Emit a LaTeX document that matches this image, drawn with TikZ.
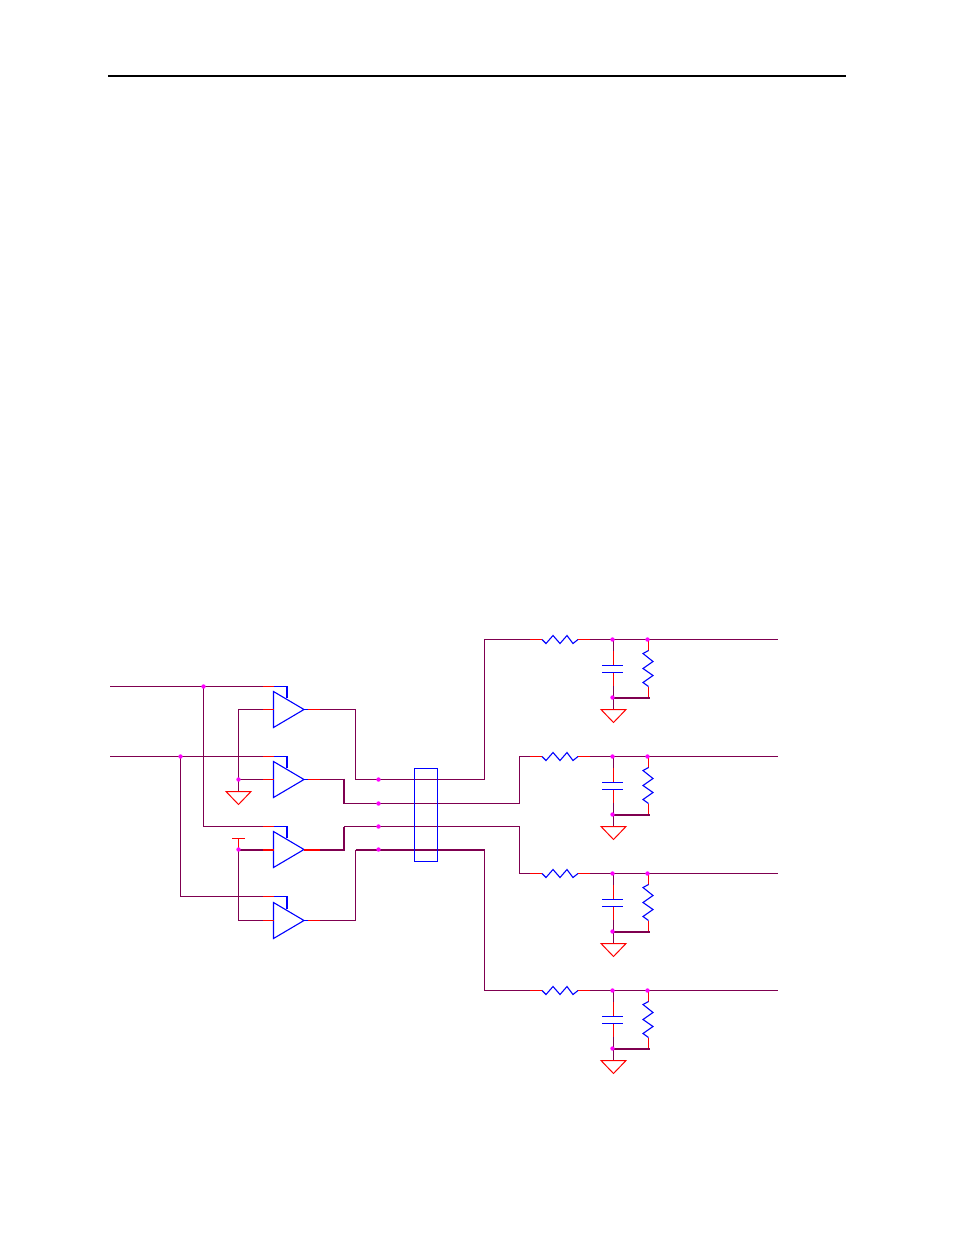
\documentclass[tikz,border=0pt]{standalone}
\usepackage{xcolor}
\definecolor{wirecol}{HTML}{7F0050}
\definecolor{dotcol}{HTML}{FF00FF}
\definecolor{partcol}{HTML}{0000FF}
\definecolor{stubcol}{HTML}{FF0000}
\tikzset{
  wire/.style={draw=wirecol,line width=1pt},
  fatwire/.style={draw=wirecol,line width=2pt},
  stub/.style={draw=stubcol,line width=1pt},
  fatstub/.style={draw=stubcol,line width=2pt},
  part/.style={draw=partcol,line width=1.1pt,line join=miter},
  gnd/.style={draw=stubcol,line width=1pt},
  junction/.style={fill=dotcol}
}
\begin{document}
\begin{tikzpicture}[x=1pt,y=-1pt]

\useasboundingbox (0,-0.5) rectangle (954,1234.5);

\def\gndsign{++(-12.5,0) -- ++(25,0) -- ++(-12.5,13) -- cycle}

% header rule
\coordinate (ruleL) at (108,75);
\coordinate (ruleR) at (846,75);
\draw[line width=2pt] (ruleL) -- (ruleR);

% the four amplifiers
\foreach \amp/\ytop/\ymid in {a/686/709,b/756/779,c/826/849,d/896/920}{
  \coordinate (\amp plus)  at (273.5,\ytop);
  \coordinate (\amp minus) at (273.5,\ymid);
  \coordinate (\amp tip)   at (304,\ymid);
  \coordinate (\amp out)   at (320,\ymid);
  \draw[stub] (263,\ytop) -- (\amp plus);
  \draw[part] (\amp plus) -- (287,\ytop) -- (287,\ymid-12);
  \draw[part] (273.5,\ymid-18) -- (\amp tip) -- (273.5,\ymid+18) -- cycle;
  \draw[part] (\amp tip) -- (308,\ymid);
}
\foreach \amp in {a,b,d}{
  \draw[stub] (263,0|-\amp minus) -- (\amp minus);
  \draw[stub] (308,0|-\amp tip) -- (\amp out);
}
\draw[fatstub] (263,849) -- (cminus);
\draw[fatstub] (304,849) -- (cout);

% inputs
\coordinate (inA) at (110,686);
\coordinate (inB) at (110,756);
\coordinate (jA) at (203.5,686);
\coordinate (jB) at (180.5,756);
\draw[wire] (inA) -- (263,686);
\draw[wire] (inB) -- (263,756);
\draw[wire] (jA) -- (203.5,826) -- (263,826);
\draw[wire] (jB) -- (180.5,896) -- (263,896);

% reference and supply
\coordinate (jG) at (238.5,779);
\coordinate (jS) at (238.5,849);
\coordinate (gndL) at (238.5,791);
\coordinate (supL) at (238.5,838);
\draw[wire] (263,709) -- (238.5,709) -- (jG) -- (gndL);
\draw[wire] (jG) -- (263,779);
\draw[gnd] (gndL) \gndsign;
\draw[fatwire] (jS) -- (263,849);
\draw[wire] (jS) -- (238.5,920) -- (263,920);
\draw[stub] (jS) -- (supL);
\draw[stub] (232,838) -- (245,838);

% outputs to the bus
\coordinate (bus1) at (378.5,779);
\coordinate (bus2) at (378.5,803);
\coordinate (bus3) at (378.5,826);
\coordinate (bus4) at (378.5,849);
\draw[wire] (aout) -- (355.5,709) -- (355.5,779) -- (bus1) -- (484.5,779) -- (484.5,639) -- (530,639);
\draw[wire] (bout) -- (344,779);
\draw[fatwire] (344,778) -- (344,803);
\draw[wire] (344,803) -- (bus2) -- (519.5,803) -- (519.5,756) -- (530,756);
\draw[fatwire] (cout) -- (344,849) -- (344,826);
\draw[wire] (344,826) -- (bus3) -- (519.5,826) -- (519.5,873) -- (530,873);
\draw[wire] (dout) -- (355.5,920) -- (355.5,849);
\draw[fatwire] (355.5,849) -- (bus4) -- (485,849);
\draw[wire] (484.5,849) -- (484.5,990) -- (530,990);

% bus box
\draw[part] (414.5,768) rectangle (437.5,861);

% filter rows
\foreach \row/\yrow in {p/639,q/756,r/873,s/990}{
\begin{scope}[yshift=-\yrow pt]
  \coordinate (\row in) at (530,0);
  \coordinate (\row capj) at (612.5,0);
  \coordinate (\row resj) at (647.5,0);
  \coordinate (\row end) at (778,0);
  \coordinate (\row low) at (612.5,58);
  \coordinate (\row gnd) at (613.5,70);
  \draw[stub] (\row in) -- (542,0);
  \draw[part] (542,0) -- (546,4) -- (553,-4) -- (560,4) -- (567,-4) -- (573,4) -- (578,0);
  \draw[stub] (578,0) -- (590,0);
  \draw[wire] (590,0) -- (\row capj) -- (\row resj) -- (\row end);
  % capacitor
  \draw[wire] (613.5,0) -- (613.5,11);
  \draw[stub] (613.5,11) -- (613.5,26);
  \draw[part] (602,26) -- (623,26);
  \draw[part] (602,33) -- (623,33);
  \draw[stub] (613.5,33) -- (613.5,46);
  \draw[wire] (613.5,46) -- (613.5,58) -- (\row gnd);
  \draw[gnd] (\row gnd) \gndsign;
  % shunt resistor
  \draw[stub] (648.5,0) -- (648.5,11);
  \draw[part] (648.5,11) -- (643,14) -- (653,22) -- (643,29) -- (653,36) -- (643,43) -- (648.5,47);
  \draw[stub] (648.5,47) -- (648.5,58);
  \draw[fatwire] (\row low) -- (649.5,58);
  \foreach \dot in {\row capj,\row resj,\row low}{
    \fill[junction] (\dot) circle (2.2);
  }
\end{scope}
}

% junction dots
\foreach \dot in {jA,jB,jG,jS,bus1,bus2,bus3,bus4}{
  \fill[junction] (\dot) circle (2.2);
}

\end{tikzpicture}
\end{document}
